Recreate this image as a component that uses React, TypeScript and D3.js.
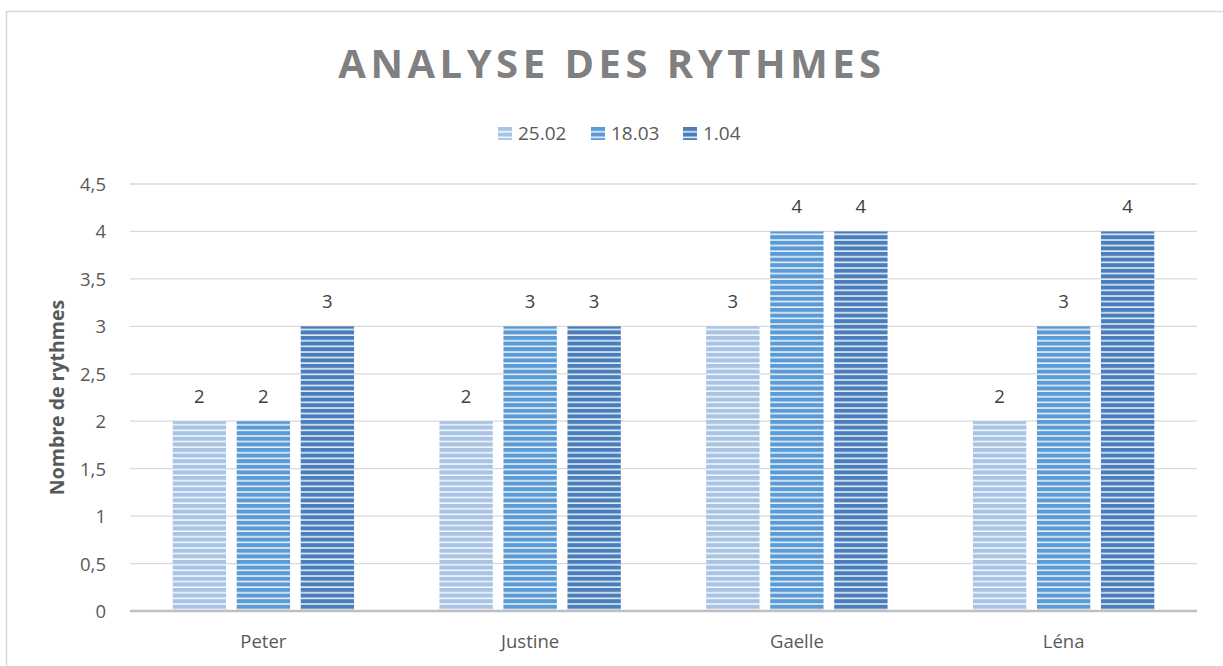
import React from "react";
import * as d3 from "d3";

const categories = ["Peter", "Justine", "Gaelle", "Léna"];
const seriesNames = ["25.02", "18.03", "1.04"];
const values25_02 = [2, 2, 3, 2];
const values18_03 = [2, 3, 4, 3];
const values1_04 = [3, 3, 4, 4];
const yTicks = [0, 0.5, 1, 1.5, 2, 2.5, 3, 3.5, 4, 4.5];
const colors = ["#a9c3e5", "#5b9bd5", "#4a7ebb"];

const W = 1223;
const H = 666;
const left = 130;
const right = 1197;
const top = 184;
const bottom = 611;
const font = "'Open Sans', sans-serif";

export default function App() {
  const series = [values25_02, values18_03, values1_04];
  const x = d3.scaleBand<string>().domain(categories).range([left, right]).padding(0);
  const y = d3.scaleLinear().domain([0, 4.5]).range([bottom, top]);
  const band = x.bandwidth();
  // gap width 160%, overlap -20%
  const bw = band / (3 + 2 * 0.2 + 1.6);
  const gap = bw * 0.2;
  const fmt = (v: number) => String(v).replace(".", ",");

  return (
    <svg
      width={W}
      height={H}
      style={{ position: "absolute", left: 0, top: 0, background: "#fff" }}
    >
      <defs>
        {colors.map((c, i) => (
          <pattern
            key={i}
            id={`stripe${i}`}
            patternUnits="userSpaceOnUse"
            width={8}
            height={5.6}
          >
            <rect width={8} height={5.6} fill={c} />
            <rect y={4} width={8} height={1.6} fill="#ffffff" opacity={0.85} />
          </pattern>
        ))}
      </defs>
      <rect x={6.5} y={11.5} width={1240} height={700} fill="none" stroke="#d9d9d9" strokeWidth={1.5} />

      <text
        x={612}
        y={78}
        textAnchor="middle"
        fontFamily={font}
        fontWeight="bold"
        fontSize={40}
        letterSpacing={4.5}
        fill="#808080"
      >
        ANALYSE DES RYTHMES
      </text>

      {/* legend */}
      {(() => {
        const starts = [498, 591, 683];
        return seriesNames.map((n, i) => (
          <g key={n} transform={`translate(${starts[i]},127)`}>
            <rect width={14} height={13} fill={`url(#stripe${i})`} />
            <text x={20} y={13} fontFamily={font} fontSize={19} fill="#595959">
              {n}
            </text>
          </g>
        ));
      })()}

      {/* gridlines */}
      {yTicks.map((t) => (
        <line
          key={t}
          x1={left}
          x2={right}
          y1={y(t)}
          y2={y(t)}
          stroke="#d9d9d9"
          strokeWidth={1.3}
        />
      ))}
      {yTicks.map((t) => (
        <text
          key={"l" + t}
          x={106}
          y={y(t) + 7}
          textAnchor="end"
          fontFamily={font}
          fontSize={18.5}
          fill="#595959"
        >
          {fmt(t)}
        </text>
      ))}

      <text
        transform={`translate(64,${(top + bottom) / 2}) rotate(-90)`}
        textAnchor="middle"
        fontFamily={font}
        fontWeight="bold"
        fontSize={19.5}
        fill="#595959"
      >
        Nombre de rythmes
      </text>

      {/* bars */}
      {categories.map((c, ci) => {
        const x0 = (x(c) as number) + (band - (3 * bw + 2 * gap)) / 2;
        return series.map((s, si) => {
          const bx = x0 + si * (bw + gap);
          const v = s[ci];
          return (
            <g key={c + si}>
              <rect
                x={bx}
                y={y(v)}
                width={bw}
                height={y(0) - y(v)}
                fill={`url(#stripe${si})`}
              />
              <text
                x={bx + bw / 2}
                y={y(v) - 18}
                textAnchor="middle"
                fontFamily={font}
                fontSize={18.5}
                fill="#404040"
              >
                {v}
              </text>
            </g>
          );
        });
      })}

      <line x1={left} x2={right} y1={bottom} y2={bottom} stroke="#bfbfbf" strokeWidth={2.5} />

      {categories.map((c) => (
        <text
          key={c}
          x={(x(c) as number) + band / 2}
          y={648}
          textAnchor="middle"
          fontFamily={font}
          fontSize={18.5}
          fill="#595959"
        >
          {c}
        </text>
      ))}
    </svg>
  );
}
